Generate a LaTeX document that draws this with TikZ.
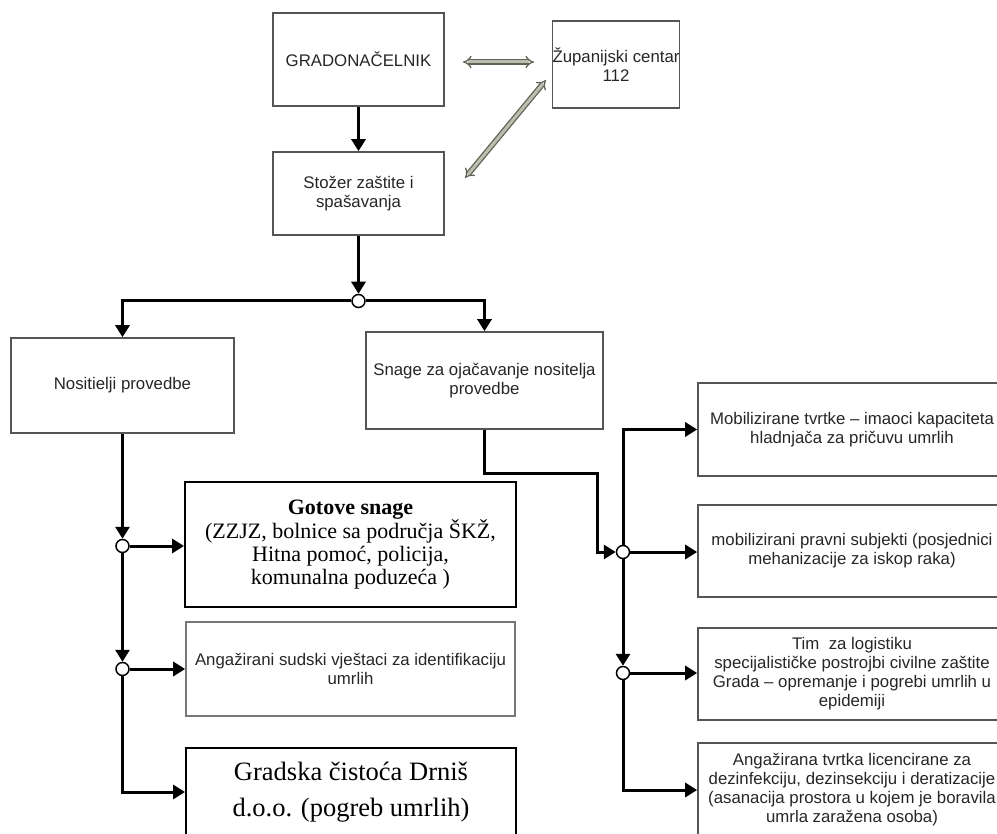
\documentclass[tikz,border=0pt]{standalone}
\usepackage{fontspec}
\setmainfont{Liberation Serif}
\setsansfont{Liberation Sans}
\usetikzlibrary{arrows.meta}
\definecolor{boxgray}{HTML}{555555}
\definecolor{txtgray}{HTML}{262626}
\definecolor{dblline}{HTML}{626256}
\definecolor{dblfill}{HTML}{BDBDB0}

\begin{document}
\begin{tikzpicture}[x=1pt, y=-1pt, > = {Triangle[length=12pt,width=14pt]}, sbox/.style = {draw=boxgray, line width=1.6pt, align=center, inner sep=0pt, text=txtgray, font=\sffamily\fontsize{16.8}{19}\selectfont}, rbox/.style = {draw=black, line width=1.9pt, align=center, inner sep=0pt, font=\rmfamily\fontsize{22}{23}\selectfont}, conn/.style = {line width=3pt, ->}, junc/.style = {circle, draw, line width=1.5pt, fill=white, minimum size=13pt, inner sep=0pt}, link/.style = {draw=dblline, double=dblfill, line width=1.3pt, double distance=3pt, {Implies}-{Implies}}]

    \clip (0,0) rectangle (997,834);

    % top boxes
    \node[sbox, minimum width=171pt, minimum height=93pt] (grad) at (358.5,59.5) {GRADONAČELNIK};
    \node[sbox, minimum width=122pt, minimum height=87pt] (zup) at (616,64.5) {Županijski centar\\112};
    \node[sbox, minimum width=171pt, minimum height=83pt] (stozer) at (358.5,193.5) {Stožer zaštite i\\spašavanja};
    \node[sbox, minimum width=223pt, minimum height=95pt] (nos) at (122.5,385.5) {Nositielji provedbe};
    \node[sbox, minimum width=237pt, minimum height=97pt] (snage) at (484.5,380.5) {Snage za ojačavanje nositelja\\provedbe};

    % left column
    \node[rbox, minimum width=331pt, minimum height=125pt] (gotove) at (350.5,544.5) {\textbf{Gotove snage}\\(ZZJZ, bolnice sa područja ŠKŽ,\\Hitna pomoć, policija,\\komunalna poduzeća )};
    \node[sbox, draw=boxgray!80, minimum width=329pt, minimum height=94pt] (angaz) at (350.5,669) {Angažirani sudski vještaci za identifikaciju\\umrlih};
    \node[rbox, font=\rmfamily\fontsize{26.5}{36}\selectfont, minimum width=330pt, minimum height=88pt] (gradska) at (351,792) {Gradska čistoća Drniš\\d.o.o. (pogreb umrlih)};

    % right column
    \node[sbox, minimum width=308pt, minimum height=93pt] (mob) at (852,429.5) {Mobilizirane tvrtke – imaoci kapaciteta\\hladnjača za pričuvu umrlih};
    \node[sbox, minimum width=308pt, minimum height=92pt] (pravni) at (852,551) {mobilizirani pravni subjekti (posjednici\\mehanizacije za iskop raka)};
    \node[sbox, minimum width=308pt, minimum height=92pt] (tim) at (852,674) {Tim\ \ za logistiku\\specijalističke postrojbi civilne zaštite\\Grada – opremanje i pogrebi umrlih u\\epidemiji};
    \node[sbox, minimum width=308pt, minimum height=94pt] (tvrtka) at (852,790) {Angažirana tvrtka licencirane za\\dezinfekciju, dezinsekciju i deratizacije\\(asanacija prostora u kojem je boravila\\umrla zaražena osoba)};

    % junctions
    \node[junc] (j1) at (358.5,301) {};
    \node[junc] (j2) at (122.5,546) {};
    \node[junc] (j3) at (122.5,669) {};
    \node[junc] (j4) at (623,552) {};
    \node[junc] (j5) at (623,673) {};

    % links to the county centre
    \coordinate (l1) at (463,62);
    \coordinate (l2) at (534,62);
    \coordinate (l3) at (465,178);
    \coordinate (l4) at (546,80);
    \draw[link] (l1) -- (l2);
    \draw[link] (l3) -- (l4);

    % connectors
    \draw[conn] (grad) -- (stozer);
    \draw[conn] (stozer) -- (j1);
    \draw[conn] (j1) -| (nos.north);
    \draw[conn] (j1) -| (snage.north);
    \draw[conn] (nos) -- (j2);
    \draw[conn] (j2) -- (j2 -| gotove.west);
    \draw[conn] (j2) -- (j3);
    \draw[conn] (j3) -- (j3 -| angaz.west);
    \draw[conn] (j3) |- (gradska.west);
    \draw[conn] (snage.south) -- ++(0,44) -| ([xshift=-26pt]j4.center) -- (j4);
    \draw[conn] (j4) |- (mob.west);
    \draw[conn] (j4) -- (j4 -| pravni.west);
    \draw[conn] (j4) -- (j5);
    \draw[conn] (j5) -- (j5 -| tim.west);
    \draw[conn] (j5) |- (tvrtka.west);

\end{tikzpicture}
\end{document}
